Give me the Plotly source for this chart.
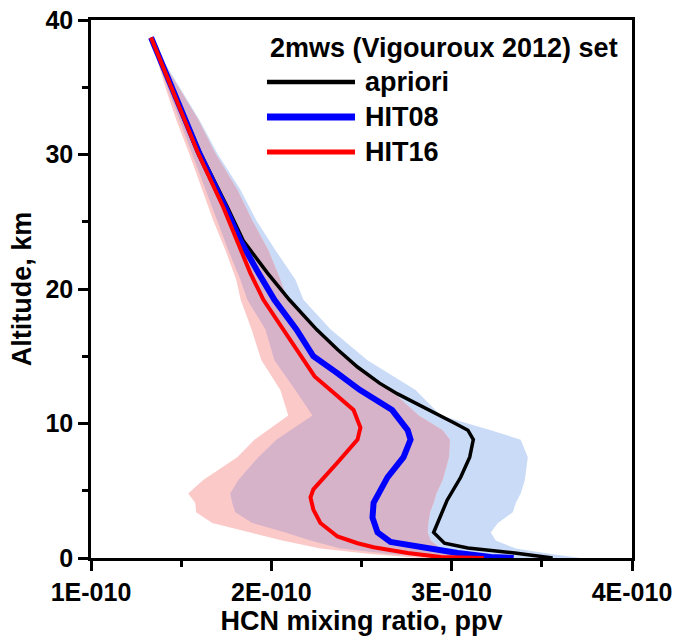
import plotly.graph_objects as go

SCALE = 1e-10  # values below are in units of 1E-010 ppv

# ---- profile lines (altitude km, mixing ratio x1E-10) ----
apriori_alt = [38.7, 34.1, 30.1, 26.1, 23.6, 21.2, 19.2, 17.0, 15.5, 14.2, 13.0, 12.2, 11.0, 10.0, 9.5, 8.8, 7.5, 6.0, 4.3, 1.9, 1.1, 0.75, 0.37, 0.07, 0.0]
apriori_val = [1.333, 1.478, 1.606, 1.756, 1.844, 1.978, 2.10, 2.25, 2.367, 2.478, 2.60, 2.70, 2.88, 3.02, 3.09, 3.12, 3.10, 3.05, 2.975, 2.90, 2.96, 3.09, 3.35, 3.50, 3.56]

hit08_alt = [38.7, 34.1, 30.1, 26.1, 23.6, 21.2, 19.2, 17.0, 15.0, 13.8, 12.5, 11.0, 9.5, 8.8, 7.5, 6.0, 4.1, 3.0, 1.9, 1.2, 0.74, 0.37, 0.07, 0.0]
hit08_val = [1.333, 1.472, 1.600, 1.744, 1.828, 1.928, 2.017, 2.139, 2.233, 2.36, 2.49, 2.67, 2.756, 2.772, 2.733, 2.644, 2.567, 2.561, 2.589, 2.661, 2.844, 3.033, 3.217, 3.344]

hit16_alt = [38.7, 34.1, 30.1, 26.1, 23.6, 21.2, 19.2, 17.0, 15.5, 13.5, 12.3, 11.0, 9.7, 8.8, 7.1, 5.1, 4.5, 3.6, 2.6, 1.6, 1.1, 0.8, 0.37, 0.07, 0.0]
hit16_val = [1.333, 1.472, 1.594, 1.733, 1.811, 1.883, 1.956, 2.067, 2.144, 2.24, 2.344, 2.456, 2.494, 2.478, 2.367, 2.233, 2.217, 2.233, 2.272, 2.367, 2.478, 2.567, 2.756, 2.939, 3.178]

# ---- variability bands (common altitude grid) ----
band_alt = [38.7, 37.0, 34.8, 32.6, 30.1, 27.4, 25.1, 22.9, 20.7, 19.2, 17.0, 14.7, 12.5, 10.6, 9.5, 8.8, 7.5, 5.8, 4.8, 4.1, 3.4, 2.6, 1.9, 1.3, 0.7, 0.3, 0.0]
hit16_lo = [1.333, 1.367, 1.417, 1.472, 1.544, 1.617, 1.678, 1.745, 1.805, 1.830, 1.890, 1.945, 2.050, 2.094, 1.983, 1.906, 1.811, 1.622, 1.539, 1.578, 1.583, 1.672, 1.883, 2.061, 2.272, 2.550, 2.828]
hit08_lo = [1.333, 1.372, 1.428, 1.489, 1.561, 1.633, 1.700, 1.761, 1.828, 1.867, 1.967, 2.017, 2.133, 2.228, 2.106, 2.028, 1.928, 1.817, 1.772, 1.783, 1.800, 1.894, 2.078, 2.217, 2.383, 2.661, 2.939]
hit16_hi = [1.333, 1.394, 1.494, 1.594, 1.689, 1.811, 1.894, 1.983, 2.050, 2.089, 2.244, 2.439, 2.661, 2.817, 2.950, 2.990, 2.985, 2.950, 2.915, 2.900, 2.880, 2.870, 2.867, 2.883, 2.939, 3.078, 3.217]
hit08_hi = [1.333, 1.400, 1.500, 1.600, 1.700, 1.828, 1.917, 2.022, 2.133, 2.178, 2.328, 2.533, 2.800, 2.939, 3.217, 3.383, 3.422, 3.406, 3.383, 3.356, 3.339, 3.256, 3.217, 3.244, 3.356, 3.550, 3.717]

x_tickvals = [1, 2, 3, 4]
x_ticktext = ["1E-010", "2E-010", "3E-010", "4E-010"]
y_tickvals = [0, 10, 20, 30, 40]

legend_title = "2mws (Vigouroux 2012) set"
series_names = ["apriori", "HIT08", "HIT16"]
series_colors = ["#000000", "#0000ff", "#ff0000"]
series_widths = [3.5, 6, 4]

FONT = "Liberation Sans, Arial, sans-serif"


def sc(v):
    return [a * SCALE for a in v]


def band(lo, hi, alt, color):
    return go.Scatter(
        x=sc(lo) + sc(hi)[::-1], y=alt + alt[::-1],
        fill="toself", fillcolor=color, mode="lines",
        line=dict(width=0, color=color), hoverinfo="skip", showlegend=False,
    )


fig = go.Figure()
fig.add_trace(band(hit08_lo, hit08_hi, band_alt, "#c9dbf6"))
fig.add_trace(band(hit16_lo, hit16_hi, band_alt, "#fcc9c9"))
fig.add_trace(band(hit08_lo, hit16_hi, band_alt, "#d6b3c9"))

for vals, alts, name, col, w in [
    (apriori_val, apriori_alt, series_names[0], series_colors[0], series_widths[0]),
    (hit08_val, hit08_alt, series_names[1], series_colors[1], series_widths[1]),
    (hit16_val, hit16_alt, series_names[2], series_colors[2], series_widths[2]),
]:
    fig.add_trace(go.Scatter(x=sc(vals), y=alts, mode="lines", name=name,
                             line=dict(color=col, width=w), showlegend=False))

# manual legend (long line samples, as in the original)
leg_y = [0.8848, 0.8197, 0.7546]
shapes = []
annotations = [dict(text=legend_title, x=0.327, y=0.948, xref="paper", yref="paper",
                    xanchor="left", yanchor="middle", showarrow=False,
                    font=dict(family=FONT, size=27, color="black", weight="bold"))]
for yy, name, col, w in zip(leg_y, series_names, series_colors, series_widths):
    shapes.append(dict(type="line", xref="paper", yref="paper", x0=0.3253, x1=0.488,
                       y0=yy, y1=yy, line=dict(color=col, width=w + 1)))
    annotations.append(dict(text=name, x=0.503, y=yy, xref="paper", yref="paper",
                            xanchor="left", yanchor="middle", showarrow=False,
                            font=dict(family=FONT, size=27, color="black", weight="bold")))

axis_common = dict(
    showline=True, linecolor="black", linewidth=2.5, mirror=True,
    ticks="outside", ticklen=10, tickwidth=2.5, tickcolor="black",
    showgrid=False, zeroline=False, automargin=False,
    tickfont=dict(family=FONT, size=25, color="black", weight="bold"),
)

fig.update_layout(
    width=677, height=640,
    margin=dict(l=91, r=45, t=20, b=82, autoexpand=False),
    paper_bgcolor="white", plot_bgcolor="white",
    shapes=shapes, annotations=annotations,
    xaxis=dict(range=[1 * SCALE, 4 * SCALE], tickvals=sc(x_tickvals), ticktext=x_ticktext,
               minor=dict(dtick=0.5 * SCALE, ticks="outside", ticklen=6, tickwidth=2.5, tickcolor="black"),
               title=dict(text="HCN mixing ratio, ppv", standoff=4,
                          font=dict(family=FONT, size=27, color="black", weight="bold")),
               **axis_common),
    yaxis=dict(range=[0, 40], tickvals=y_tickvals,
               minor=dict(dtick=5, ticks="outside", ticklen=6, tickwidth=2.5, tickcolor="black"),
               title=dict(text="Altitude, km", standoff=6,
                          font=dict(family=FONT, size=27, color="black", weight="bold")),
               **axis_common),
)

fig.write_html("out.html")
